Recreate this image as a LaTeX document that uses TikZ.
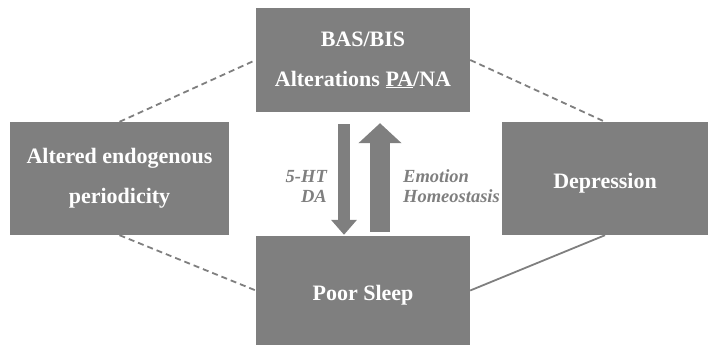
\documentclass[tikz,border=0pt]{standalone}
\usepackage{fontspec}
\setmainfont{Liberation Serif}
\usetikzlibrary{arrows.meta,calc}
\definecolor{boxgray}{HTML}{7F7F7F}
\tikzset{
  greybox/.style={fill=boxgray,draw=none,text=white,font=\bfseries\fontsize{22}{40}\selectfont,align=center,inner sep=0pt},
  linkline/.style={draw=boxgray,line width=1.8pt},
  flowtext/.style={text=boxgray,font=\bfseries\itshape\fontsize{18.5}{20}\selectfont,inner sep=0pt}
}
\begin{document}
\begin{tikzpicture}[x=1pt,y=-1pt]
  %\draw[help lines] (0,0) grid (708,347);
  \useasboundingbox (0,0) rectangle (708,347);
  \node[greybox,minimum width=214pt,minimum height=104pt] (bas) at (363,60) {BAS/BIS\\Alterations \underline{PA}/NA};
  \node[greybox,minimum width=219pt,minimum height=113pt] (alt) at (119.5,178.5) {Altered endogenous\\periodicity};
  \node[greybox,minimum width=206pt,minimum height=113pt,text height=25pt] (dep) at (605,178.5) {Depression};
  \node[greybox,minimum width=214pt,minimum height=109pt,text height=25pt] (sleep) at (363,290.5) {Poor Sleep};
  % links between the boxes
  \draw[linkline,dashed,dash pattern=on 6pt off 4pt] (alt.north) -- (bas.west);
  \draw[linkline,dashed,dash pattern=on 6pt off 4pt] (bas.east) -- (dep.north);
  \draw[linkline,dashed,dash pattern=on 6pt off 4pt] (alt.south) -- (sleep.west);
  \draw[linkline] (dep.south) -- (sleep.east);
  % the two big arrows
  \draw[draw=boxgray,line width=12pt,-{Triangle[width=25pt,length=15pt]}]
    ([xshift=-19pt,yshift=-12pt]bas.south) -- ([xshift=-19pt,yshift=1pt]sleep.north);
  \draw[draw=boxgray,line width=20pt,-{Triangle[width=42pt,length=20pt]}]
    ([xshift=17pt,yshift=4pt]sleep.north) -- ([xshift=17pt,yshift=-11pt]bas.south);
  \node[flowtext,align=right,anchor=east] (hta) at (327,186) {5-HT\\DA};
  \node[flowtext,align=left,anchor=west] (emo) at (403,186) {Emotion\\Homeostasis};
\end{tikzpicture}
\end{document}
